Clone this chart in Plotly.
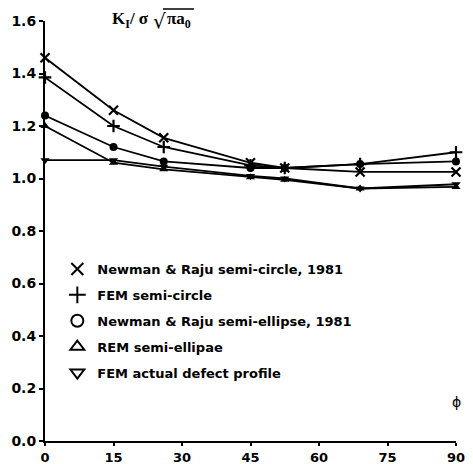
import plotly.graph_objects as go

phi = [0, 15, 26, 45, 52.5, 69, 90]
nr_circle = [1.46, 1.26, 1.155, 1.06, 1.04, 1.025, 1.025]
fem_circle = [1.385, 1.20, 1.12, 1.05, 1.04, 1.055, 1.10]
nr_ellipse = [1.24, 1.12, 1.065, 1.04, 1.04, 1.055, 1.065]
rem_ellipse = [1.20, 1.06, 1.035, 1.005, 0.995, 0.962, 0.968]
fem_actual = [1.07, 1.07, 1.045, 1.01, 1.0, 0.962, 0.978]

names = ["Newman & Raju semi-circle, 1981", "FEM semi-circle",
         "Newman & Raju semi-ellipse, 1981", "REM semi-ellipae",
         "FEM actual defect profile"]
series = [nr_circle, fem_circle, nr_ellipse, rem_ellipse, fem_actual]
plot_symbols = ["x-thin", "cross-thin", "circle", "triangle-up", "triangle-down"]
legend_symbols = ["x-thin-open", "cross-thin-open", "circle-open", "triangle-up-open", "triangle-down-open"]
xticks = [0, 15, 30, 45, 60, 75, 90]
yticks = [0.0, 0.2, 0.4, 0.6, 0.8, 1.0, 1.2, 1.4, 1.6]

fig = go.Figure()
for name, ys, sym in zip(names, series, plot_symbols):
    thin = sym.endswith("thin")
    fig.add_trace(go.Scatter(
        x=phi, y=ys, mode="lines+markers", showlegend=False, cliponaxis=False,
        line=dict(color="black", width=1.8),
        marker=dict(symbol=sym, size=9 if thin else 8, color="black",
                    line=dict(color="black", width=2.2 if thin else 0)),
    ))
for i, (name, sym) in enumerate(zip(names, legend_symbols)):
    fig.add_trace(go.Scatter(
        x=[None], y=[None], mode="markers", name=name, legendgroup=str(i),
        marker=dict(symbol=sym, size=12, color="black",
                    line=dict(color="black", width=2)),
    ))

font = "DejaVu Sans"
L, R, T, B = 45, 17, 21, 23
W, H = 473, 464
pw, ph = W - L - R, H - T - B


def px(x):
    return (x - L) / pw


def py(y):
    return (H - B - y) / ph


fig.update_layout(
    width=W, height=H,
    margin=dict(l=L, r=R, t=T, b=B),
    paper_bgcolor="white", plot_bgcolor="white",
    showlegend=True,
    legend=dict(x=0.03, y=py(254), xanchor="left", yanchor="top",
                font=dict(family=font, size=13, color="black", weight="bold"),
                tracegroupgap=6, bgcolor="rgba(0,0,0,0)"),
    xaxis=dict(range=[0, 90], tickvals=xticks, ticktext=[str(t) for t in xticks],
               showgrid=False, zeroline=False, showline=True, linecolor="black",
               linewidth=2, ticks="outside", ticklen=3, tickwidth=2, tickcolor="black",
               automargin=False,
               tickfont=dict(family=font, size=13, color="black", weight="bold")),
    yaxis=dict(range=[0, 1.6], tickvals=yticks, ticktext=[f"{t:.1f}" for t in yticks],
               showgrid=False, zeroline=False, showline=True, linecolor="black",
               linewidth=2, ticks="outside", ticklen=4, tickwidth=2, tickcolor="black",
               automargin=False,
               tickfont=dict(family=font, size=14, color="black", weight="bold")),
    annotations=[
        dict(x=px(151), y=py(20), xref="paper", yref="paper", xanchor="right", yanchor="middle",
             text="<b>K<sub>I</sub>/ σ</b>",
             showarrow=False, font=dict(family="Liberation Serif", size=17, color="black")),
        dict(x=px(151), y=py(21), xref="paper", yref="paper", xanchor="left", yanchor="middle",
             text="√", showarrow=False,
             font=dict(family="DejaVu Serif", size=20, color="black")),
        dict(x=px(165), y=py(20), xref="paper", yref="paper", xanchor="left", yanchor="middle",
             text="<b>πa<sub>0</sub></b>",
             showarrow=False, font=dict(family="Liberation Serif", size=17, color="black")),
        dict(x=90, y=0.15, xref="x", yref="y", xanchor="center", yanchor="middle",
             text="ϕ", showarrow=False,
             font=dict(family="DejaVu Sans", size=14, color="black")),
    ],
    shapes=[dict(type="line", xref="paper", yref="paper",
                 x0=px(163), x1=px(194), y0=py(9), y1=py(9),
                 line=dict(color="black", width=1.5))],
)
fig.write_html("out.html")
